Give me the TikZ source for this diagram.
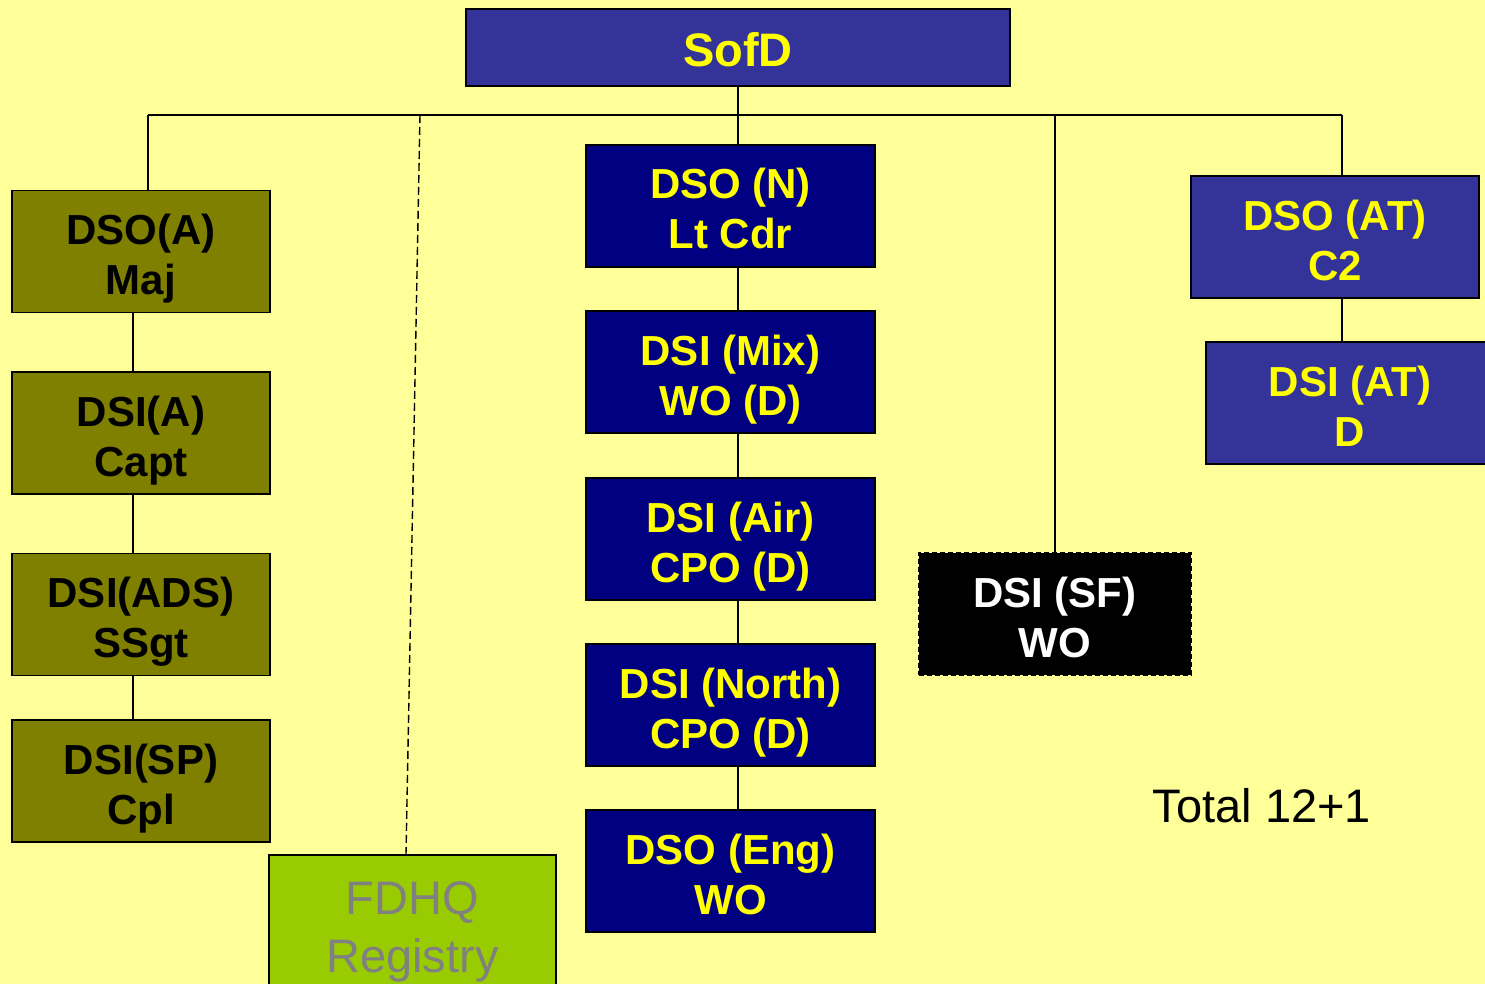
\documentclass[tikz,border=0pt]{standalone}
\usepackage{fontspec}
\setmainfont{Liberation Sans}
\definecolor{bg}{HTML}{FFFF99}
\definecolor{navyc}{HTML}{000080}
\definecolor{bluec}{HTML}{333399}
\definecolor{olivec}{HTML}{808000}
\definecolor{greenc}{HTML}{99CC00}
\definecolor{grayc}{HTML}{808080}
\definecolor{yelc}{HTML}{FFFF00}
\newcommand\twol[2]{\rule{0pt}{46pt}#1\\#2\rule[-10pt]{0pt}{10pt}}
\tikzset{
  box/.style={draw=black, line width=1.8pt, inner sep=0pt, align=center,
    font=\fontsize{42}{50}\selectfont\bfseries},
  navybox/.style={box, fill=navyc, text=yelc, minimum width=289, minimum height=122},
  bluebox/.style={box, fill=bluec, text=yelc, minimum width=288, minimum height=122},
  olivebox/.style={box, fill=olivec, text=black, minimum width=258, minimum height=122},
  conn/.style={draw=black, line width=1.6pt},
}
\begin{document}
\begin{tikzpicture}[x=1pt,y=-1pt]
\useasboundingbox (0,0) rectangle (1485,984);
\fill[bg] (0,0) rectangle (1485,984);
\clip (0,0) rectangle (1485,984);
% top
\node[bluebox, minimum width=544, minimum height=77, font=\fontsize{47}{55}\selectfont\bfseries] (sofd) at (738,47.5) {\rule{0pt}{49pt}SofD\rule[-10pt]{0pt}{10pt}};
% left column
\node[olivebox] (a1) at (141,251.5) {\twol{DSO(A)}{Maj}};
\node[olivebox] (a2) at (141,433) {\twol{DSI(A)}{Capt}};
\node[olivebox] (a3) at (141,614.5) {\twol{DSI(ADS)}{SSgt}};
\node[olivebox] (a4) at (141,781) {\twol{DSI(SP)}{Cpl}};
% FDHQ
\node[draw=black, line width=1.8pt, fill=greenc, text=grayc, inner sep=0pt, align=center,
  minimum width=287, minimum height=142, font=\fontsize{47}{58}\selectfont] (fdhq) at (412.5,926) {\rule{0pt}{44pt}FDHQ\\Registry\rule[-10pt]{0pt}{10pt}};
% middle column
\node[navybox] (n1) at (730.5,206) {\twol{DSO (N)}{Lt Cdr}};
\node[navybox] (n2) at (730.5,372) {\twol{DSI (Mix)}{WO (D)}};
\node[navybox] (n3) at (730.5,539) {\twol{DSI (Air)}{CPO (D)}};
\node[navybox] (n4) at (730.5,705) {\twol{DSI (North)}{CPO (D)}};
\node[navybox] (n5) at (730.5,871) {\twol{DSO (Eng)}{WO}};
% SF
\node[box, fill=black, text=white, dashed, dash pattern=on 5pt off 3pt, line width=1.6pt,
  minimum width=272, minimum height=122] (sf) at (1055,614) {\twol{DSI (SF)}{WO}};
% right
\node[bluebox] (at1) at (1335,237) {\twol{DSO (AT)}{C2}};
\node[bluebox] (at2) at (1350,403) {\twol{DSI (AT)}{D}};
% total
\node[font=\fontsize{47}{55}\selectfont, inner sep=0pt] (tot) at (1262,806) {Total 12+1};
% connectors
\coordinate (busL) at (148,115);
\coordinate (busD) at (420,115);
\coordinate (busM) at (738,115);
\coordinate (busR) at (1055,115);
\coordinate (busE) at (1342,115);
\draw[conn] (busL) -- (busE);
\draw[conn] (sofd.south) -- (sofd.south |- n1.north);
\draw[conn] (busL) -- (busL |- a1.north);
\draw[conn] ([xshift=-8pt]a1.south) -- ([xshift=-8pt]a2.north);
\draw[conn] ([xshift=-8pt]a2.south) -- ([xshift=-8pt]a3.north);
\draw[conn] ([xshift=-8pt]a3.south) -- ([xshift=-8pt]a4.north);
\draw[conn, line width=1.4pt, dash pattern=on 8pt off 4pt] (busD) -- ([xshift=-6.5pt]fdhq.north);
\draw[conn] (sofd.south |- n1.south) -- (sofd.south |- n2.north);
\draw[conn] (sofd.south |- n2.south) -- (sofd.south |- n3.north);
\draw[conn] (sofd.south |- n3.south) -- (sofd.south |- n4.north);
\draw[conn] (sofd.south |- n4.south) -- (sofd.south |- n5.north);
\draw[conn] (busR) -- (sf.north);
\draw[conn] (busE) -- (busE |- at1.north);
\draw[conn] (busE |- at1.south) -- (busE |- at2.north);
\end{tikzpicture}
\end{document}
